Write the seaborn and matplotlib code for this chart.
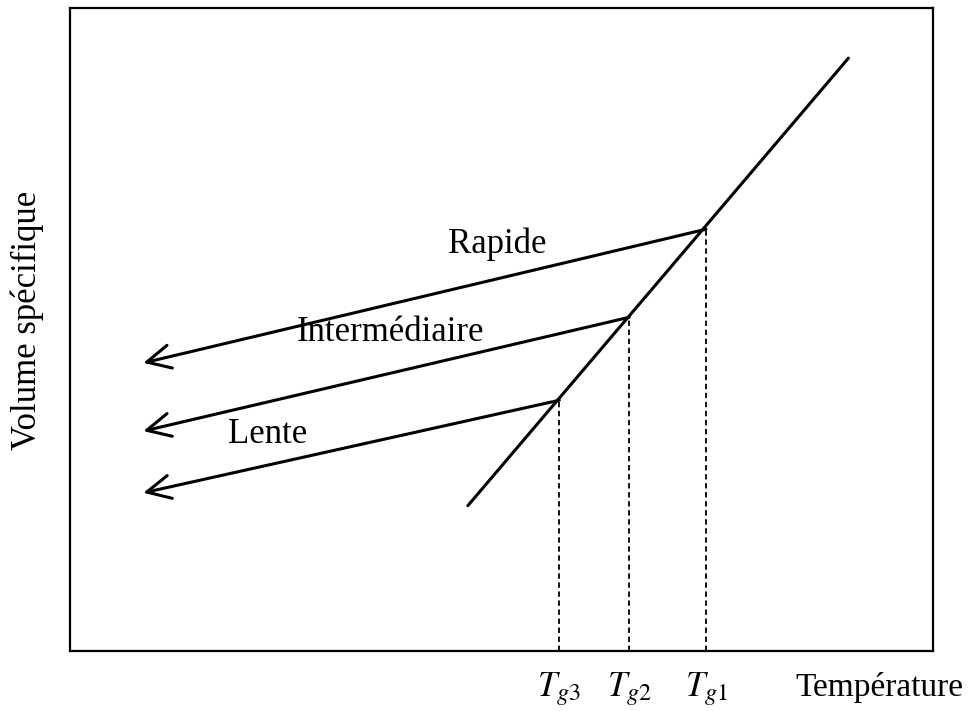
import matplotlib
matplotlib.use("Agg")
import matplotlib.pyplot as plt
import seaborn as sns

# ---- data (arbitrary schematic units) ----
liquid_T = [46.1, 90.2]
liquid_V = [22.6, 92.2]

rates = ["Rapide", "Intermédiaire", "Lente"]
tg_T = [73.7, 64.8, 56.7]
tg_V = [65.6, 51.9, 39.0]
glass_end_T = [8.5, 8.5, 8.5]
glass_end_V = [44.8, 34.2, 24.6]
label_T = [49.5, 37.1, 22.9]
label_V = [63.3, 49.5, 33.6]

tick_labels = [r"$T_{g1}$", r"$T_{g2}$", r"$T_{g3}$"]

sns.set_theme(style="white")
plt.rcParams["font.family"] = ["Liberation Serif", "DejaVu Serif"]
plt.rcParams["mathtext.fontset"] = "stix"
plt.rcParams["text.color"] = "black"
plt.rcParams["axes.labelcolor"] = "black"
plt.rcParams["xtick.color"] = "black"
plt.rcParams["ytick.color"] = "black"

fig, ax = plt.subplots(figsize=(9.7, 7.11), dpi=100)
fig.subplots_adjust(left=70/970, right=933/970, bottom=(711-651)/711, top=(711-8)/711)

# liquid / supercooled line
sns.lineplot(x=liquid_T, y=liquid_V, ax=ax, color="black", linewidth=2.2,
             sort=False, estimator=None)

for i in range(len(rates)):
    # glass lines with arrows
    ax.annotate("", xy=(glass_end_T[i], glass_end_V[i]), xytext=(tg_T[i], tg_V[i]),
                arrowprops=dict(arrowstyle="->,head_length=0.85,head_width=0.42",
                                color="black", lw=2.2, shrinkA=0, shrinkB=0,
                                mutation_scale=20))
    # dashed vertical to the axis
    ax.plot([tg_T[i], tg_T[i]], [0, tg_V[i]], color="black",
            linewidth=1.3, linestyle=(0, (3, 2)))
    ax.text(label_T[i], label_V[i], rates[i], fontsize=25, ha="center", va="center",
            color="black")

ax.set_xlim(0, 100)
ax.set_ylim(0, 100)
ax.set_xticks(tg_T)
ax.set_xticklabels(tick_labels, fontsize=25)
ax.set_yticks([])
ax.tick_params(axis="x", length=0, pad=14)

ax.set_xlabel("Température", fontsize=24)
ax.xaxis.set_label_coords((879-70)/863, -0.056)
ax.xaxis.label.set_va("center")
ax.set_ylabel("Volume spécifique", fontsize=25)
ax.yaxis.label.set_va("center")
ax.yaxis.set_label_coords(-(70-27)/863, (651-320)/643)

for s in ax.spines.values():
    s.set_color("black")
    s.set_linewidth(1.6)

fig.savefig("out.png", dpi=100)
